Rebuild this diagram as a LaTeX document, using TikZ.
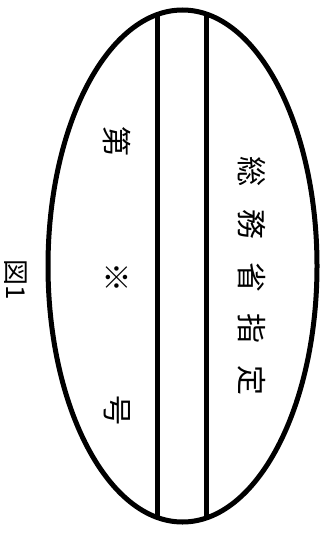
\documentclass[tikz,border=0pt]{standalone}
\usepackage{fontspec}
\newfontfamily\jpfont{Noto Sans CJK JP}
\usetikzlibrary{shapes.geometric}

\begin{document}
\begin{tikzpicture}[
 x=1pt,y=-1pt,
 rim/.style={draw=black,line width=5pt},
 bar/.style={draw=black,line width=5pt},
 glyph/.style={inner sep=0pt,rotate=-90,font=\jpfont\fontsize{30}{30}\selectfont}
]
\useasboundingbox (0,0) rectangle (324,537);
% seal outline and the two bars
\node[ellipse,minimum width=269pt,minimum height=512pt,inner sep=0pt] (seal) at (182.5,266) {};
\begin{scope}
 \clip (182.5,266) ellipse [x radius=134.5pt,y radius=256pt];
 \coordinate (bl) at (157,0); \coordinate (br) at (206,0);
 \draw[bar] (bl) -- ++(0,537);
 \draw[bar] (br) -- ++(0,537);
\end{scope}
\draw[rim] (182.5,266) ellipse [x radius=134.5pt,y radius=256pt];
% left column
\node[glyph] (dai) at (117,142) {第};
\node[glyph] (kome) at (117,277) {※};
\node[glyph] (go) at (117,410) {号};
% right column
\foreach \c/\y [count=\i] in {総/172,務/224,省/277,指/328,定/380}
 {\node[glyph] (r\i) at (252,\y) {\c};}
% caption
\node[glyph,font=\jpfont\fontsize{26}{26}\selectfont] (fig) at (16,280) {図1};
\end{tikzpicture}
\end{document}
